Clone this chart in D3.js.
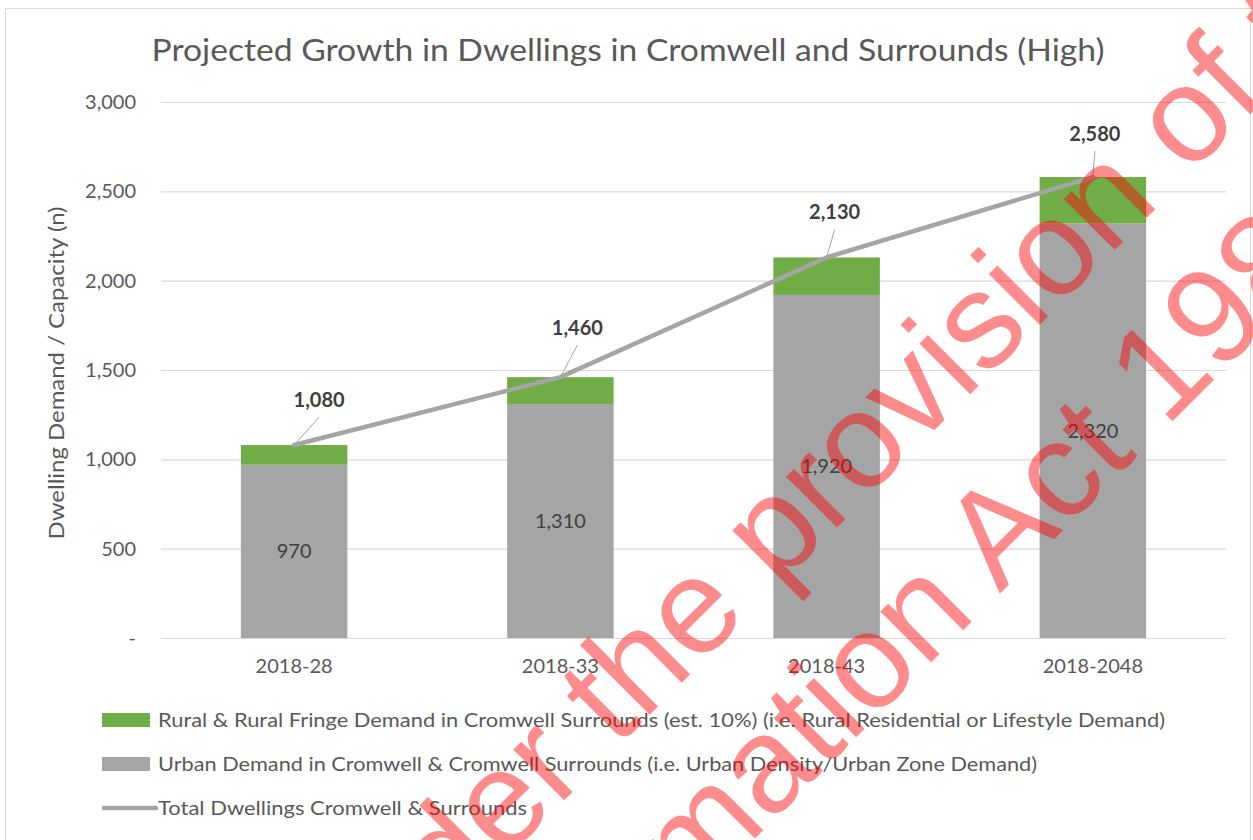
<!DOCTYPE html>
<html>
<head>
<meta charset="utf-8">
<script src="https://cdn.jsdelivr.net/npm/d3@7"></script>
<style>
  body { margin: 0; background: #fff; }
  svg { display: block; font-family: Lato, "Open Sans", sans-serif; }
</style>
</head>
<body>
<div id="chart"></div>
<script>
const periods = ["2018-28", "2018-33", "2018-43", "2018-2048"];
const urbanDemand = [970, 1310, 1920, 2320];
const ruralDemand = [110, 150, 210, 260];
const totalDwellings = [1080, 1460, 2130, 2580];
const yTicks = [0, 500, 1000, 1500, 2000, 2500, 3000];

const seriesNames = [
    "Rural & Rural Fringe Demand in Cromwell Surrounds (est. 10%) (i.e. Rural Residential or Lifestyle Demand)",
    "Urban Demand in Cromwell & Cromwell Surrounds (i.e. Urban Density/Urban Zone Demand)",
    "Total Dwellings Cromwell & Surrounds"
];

const width = 1253;
const height = 840;
const margin = { top: 102, right: 27, bottom: 202, left: 161 };

const green = "#70AD47";
const grey = "#A5A5A5";
const textColor = "#595959";
const labelColor = "#404040";

const rows = periods.map((p, i) => ({
    period: p,
    urban: urbanDemand[i],
    rural: ruralDemand[i],
    total: totalDwellings[i]
}));

const svg = d3.select("#chart").append("svg").attr("width", width).attr("height", height);

// chart frame
svg.append("rect").attr("x", 5.5).attr("y", 8.5).attr("width", 1245).attr("height", 850)
    .attr("fill", "#fff").attr("stroke", "#d9d9d9").attr("stroke-width", 1);

const x = d3.scaleBand().domain(periods).range([margin.left, width - margin.right]).paddingInner(0.6).paddingOuter(0.3);
const y = d3.scaleLinear().domain([0, 3000]).range([height - margin.bottom, margin.top]);

// gridlines
svg.append("g").attr("transform", `translate(${margin.left}, 0)`)
    .call(d3.axisLeft(y).tickValues(yTicks).tickSize(-(width - margin.left - margin.right)).tickFormat(""))
    .call(g => g.select(".domain").remove())
    .call(g => g.selectAll(".tick line").attr("stroke", "#d9d9d9").attr("stroke-width", 1.2));

// y axis labels
svg.append("g").attr("transform", `translate(136, 0)`)
    .call(d3.axisLeft(y).tickValues(yTicks).tickSize(0).tickPadding(0).tickFormat(d => d === 0 ? "-" : d3.format(",")(d)))
    .call(g => g.select(".domain").remove())
    .call(g => g.selectAll("text").attr("fill", textColor).attr("font-size", 20).attr("font-family", "Lato"));

// x axis labels
svg.append("g").attr("transform", `translate(0, ${height - margin.bottom})`)
    .call(d3.axisBottom(x).tickSize(0).tickPadding(21))
    .call(g => g.select(".domain").remove())
    .call(g => g.selectAll("text").attr("fill", textColor).attr("font-size", 20).attr("font-family", "Lato"));

// stacked bars
const stack = d3.stack().keys(["urban", "rural"])(rows);
const colours = { urban: grey, rural: green };

svg.selectAll("g.layer").data(stack).enter().append("g").attr("class", "layer")
    .attr("fill", d => colours[d.key])
    .selectAll("rect").data(d => d).enter().append("rect")
    .attr("x", d => x(d.data.period))
    .attr("y", d => y(d[1]))
    .attr("width", x.bandwidth())
    .attr("height", d => y(d[0]) - y(d[1]));

// urban value labels, middle of segment
svg.selectAll("text.urban").data(rows).enter().append("text").attr("class", "urban")
    .attr("x", d => x(d.period) + x.bandwidth() / 2)
    .attr("y", d => y(d.urban / 2))
    .attr("dy", "0.35em").attr("text-anchor", "middle")
    .attr("font-size", 20).attr("fill", labelColor)
    .text(d => d3.format(",")(d.urban));

// total line
const cx = d => x(d.period) + x.bandwidth() / 2;
const line = d3.line().x(cx).y(d => y(d.total));
svg.append("path").datum(rows).attr("fill", "none").attr("stroke", grey).attr("stroke-width", 4.5)
    .attr("stroke-linecap", "round").attr("stroke-linejoin", "round").attr("d", line);

// total labels were dragged in the original, with leader lines
const nudge = [[25, -45], [17, -49], [8, -45], [2, -43]];
svg.selectAll("line.leader").data(rows).enter().append("line").attr("class", "leader")
    .attr("x1", d => cx(d)).attr("y1", d => y(d.total))
    .attr("x2", (d, i) => cx(d) + nudge[i][0]).attr("y2", (d, i) => y(d.total) + nudge[i][1] + 17)
    .attr("stroke", "#a6a6a6").attr("stroke-width", 1);
svg.selectAll("text.total").data(rows).enter().append("text").attr("class", "total")
    .attr("x", (d, i) => cx(d) + nudge[i][0])
    .attr("y", (d, i) => y(d.total) + nudge[i][1])
    .attr("dy", "0.35em").attr("text-anchor", "middle")
    .attr("font-size", 20).attr("font-weight", "bold").attr("fill", labelColor)
    .text(d => d3.format(",")(d.total));

// title
svg.append("text").attr("x", 628).attr("y", 50).attr("dy", "0.35em").attr("text-anchor", "middle")
    .attr("font-size", 31).attr("fill", textColor)
    .attr("textLength", 953).attr("lengthAdjust", "spacingAndGlyphs")
    .text("Projected Growth in Dwellings in Cromwell and Surrounds (High)");

// y axis title
svg.append("text").attr("transform", "rotate(-90)").attr("x", -373).attr("y", 57).attr("dy", "0.35em")
    .attr("text-anchor", "middle").attr("font-size", 21).attr("fill", textColor)
    .attr("textLength", 333).attr("lengthAdjust", "spacingAndGlyphs")
    .text("Dwelling Demand / Capacity (n)");

// legend
const legendWidths = [1007, 879, 369];
const legend = svg.append("g").attr("transform", "translate(102, 720)");
const legendRows = legend.selectAll("g").data(seriesNames).enter().append("g")
    .attr("transform", (d, i) => `translate(0, ${i * 44})`);
legendRows.filter((d, i) => i < 2).append("rect")
    .attr("x", 0).attr("y", -7).attr("width", 48).attr("height", 14)
    .attr("fill", (d, i) => i === 0 ? green : grey);
legendRows.filter((d, i) => i === 2).append("line")
    .attr("x1", 2).attr("x2", 54).attr("y1", 0).attr("y2", 0)
    .attr("stroke", grey).attr("stroke-width", 4.5).attr("stroke-linecap", "round");
legendRows.append("text").attr("x", 56).attr("dy", "0.35em")
    .attr("font-size", 20).attr("fill", textColor)
    .attr("textLength", (d, i) => legendWidths[i]).attr("lengthAdjust", "spacingAndGlyphs")
    .text(d => d);

// release watermark
const mark = svg.append("g").attr("transform", "translate(727, 752) rotate(-45)")
    .attr("font-family", "'Liberation Sans', Arial, sans-serif").attr("font-size", 136)
    .attr("fill", "#ff0000").attr("fill-opacity", 0.45).attr("text-anchor", "middle")
    .style("pointer-events", "none");
mark.append("text").attr("x", 0).attr("y", -81).text("Released under the provision of the");
mark.append("text").attr("x", -8).attr("y", 81).text("Official Information Act 1982");
</script>
</body>
</html>
